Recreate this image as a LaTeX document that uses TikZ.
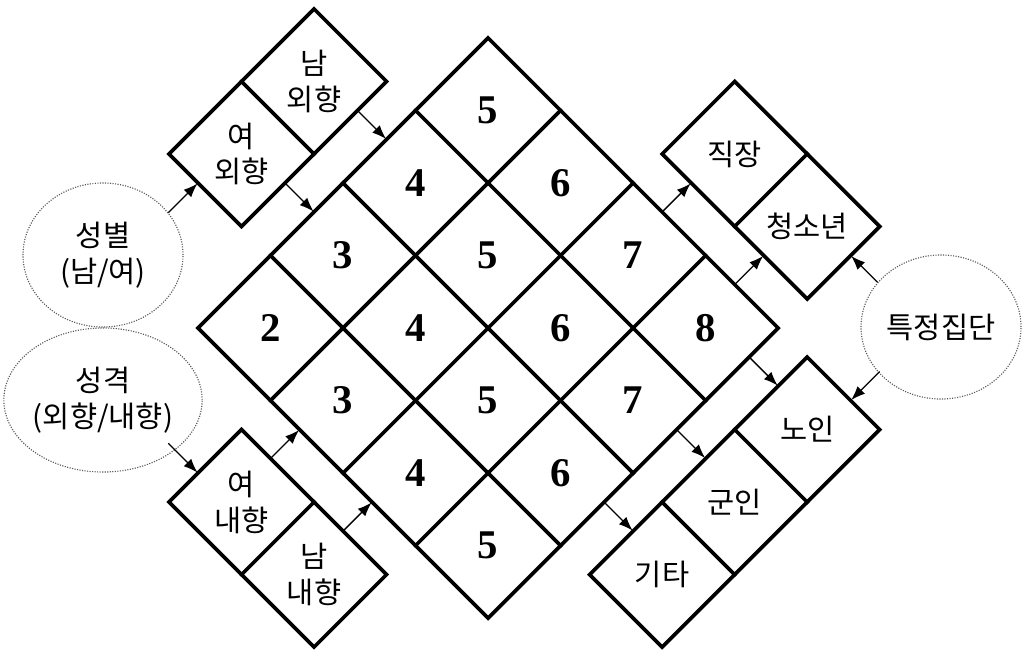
\documentclass[tikz,border=0pt]{standalone}
\usepackage{fontspec}
\setmainfont{Liberation Serif}
\newfontfamily\kr{Noto Sans CJK KR}
\usetikzlibrary{arrows.meta,shapes.geometric}
\begin{document}
\begin{tikzpicture}[x=0.025cm,y=-0.025cm,
  gridline/.style={line width=2.6pt, line join=miter, line cap=rect},
  num/.style={font=\fontsize{29}{30}\selectfont\bfseries, inner sep=0pt},
  lab/.style={font=\kr\fontsize{21}{25.5}\selectfont, align=center, inner sep=0pt},
  arr/.style={line width=0.9pt, -{Latex[length=10pt,width=7.5pt]}, shorten >=0.5pt},
  circ/.style={ellipse, draw=black!65, densely dotted, line width=0.8pt,
    minimum width=4cm, minimum height=3.6cm, inner sep=0pt, align=center,
    font=\kr\fontsize{21}{25.5}\selectfont}]
\path[use as bounding box] (0,0) rectangle (1029,652);

% circles
\node[circ] (sex) at (103,255) {성별\\(남/여)};
\node[circ] (per) at (103,400) {성격\\(외향/내향)};
\node[circ] (grp) at (941,327) {특정집단};

\begin{scope}[shift={(198,328)}, x={(1.8125cm,-1.8125cm)}, y={(1.8125cm,1.8125cm)}]
  % main grid
  \draw[gridline] (0,0) -- (4,0) -- (4,4) -- (0,4) -- cycle;
  \foreach \k in {1,2,3} {
    \draw[gridline] (\k,0) -- (\k,4);
    \draw[gridline] (0,\k) -- (4,\k);
  }
  \foreach \i in {0,...,3} {
    \foreach \j in {0,...,3} {
      \pgfmathtruncatemacro\v{2+\i+\j}
      \node[num] (n\i\j) at (\i+0.5,\j+0.5) {\v};
    }
  }
  % upper-left boxes
  \draw[gridline] (-1.4,1) -- (-0.4,1) -- (-0.4,3) -- (-1.4,3) -- cycle;
  \draw[gridline] (-1.4,2) -- (-0.4,2);
  \node[lab] (fo) at (-0.9,1.5) {여\\외향};
  \node[lab] (mo) at (-0.9,2.5) {남\\외향};
  % lower-left boxes
  \draw[gridline] (1,-1.4) -- (3,-1.4) -- (3,-0.4) -- (1,-0.4) -- cycle;
  \draw[gridline] (2,-1.4) -- (2,-0.4);
  \node[lab] (fi) at (1.5,-0.9) {여\\내향};
  \node[lab] (mi) at (2.5,-0.9) {남\\내향};
  % upper-right boxes
  \draw[gridline] (2,4.4) -- (4,4.4) -- (4,5.4) -- (2,5.4) -- cycle;
  \draw[gridline] (3,4.4) -- (3,5.4);
  \node[lab] (job) at (2.5,4.9) {직장};
  \node[lab] (teen) at (3.5,4.9) {청소년};
  % lower-right boxes
  \draw[gridline] (4.4,1) -- (5.4,1) -- (5.4,4) -- (4.4,4) -- cycle;
  \draw[gridline] (4.4,2) -- (5.4,2);
  \draw[gridline] (4.4,3) -- (5.4,3);
  \node[lab] (old) at (4.9,3.5) {노인};
  \node[lab] (mil) at (4.9,2.5) {군인};
  \node[lab] (etc) at (4.9,1.5) {기타};

  % arrow end points
  \coordinate (mo-s) at (-0.4,2.6); \coordinate (mo-e) at (0,2.6);
  \coordinate (fo-s) at (-0.4,1.6); \coordinate (fo-e) at (0,1.6);
  \coordinate (fi-s) at (1.4,-0.4); \coordinate (fi-e) at (1.4,0);
  \coordinate (mi-s) at (2.4,-0.4); \coordinate (mi-e) at (2.4,0);
  \coordinate (job-s) at (2.4,4); \coordinate (job-e) at (2.4,4.4);
  \coordinate (teen-s) at (3.4,4); \coordinate (teen-e) at (3.4,4.4);
  \coordinate (old-s) at (4,3.6); \coordinate (old-e) at (4.4,3.6);
  \coordinate (mil-s) at (4,2.6); \coordinate (mil-e) at (4.4,2.6);
  \coordinate (etc-s) at (4,1.6); \coordinate (etc-e) at (4.4,1.6);
  \coordinate (sex-s) at (-1,0.59); \coordinate (sex-e) at (-1,1);
  \coordinate (per-s) at (0.59,-1); \coordinate (per-e) at (1,-1);
  \coordinate (grp-s1) at (4.37,5); \coordinate (grp-e1) at (4,5);
  \coordinate (grp-s2) at (5,4.4); \coordinate (grp-e2) at (5,4);
\end{scope}

\draw[arr] (mo-s) -- (mo-e);
\draw[arr] (fo-s) -- (fo-e);
\draw[arr] (fi-s) -- (fi-e);
\draw[arr] (mi-s) -- (mi-e);
\draw[arr] (job-s) -- (job-e);
\draw[arr] (teen-s) -- (teen-e);
\draw[arr] (old-s) -- (old-e);
\draw[arr] (mil-s) -- (mil-e);
\draw[arr] (etc-s) -- (etc-e);
\draw[arr] (sex-s) -- (sex-e);
\draw[arr] (per-s) -- (per-e);
\draw[arr] (grp-s1) -- (grp-e1);
\draw[arr] (grp-s2) -- (grp-e2);
\end{tikzpicture}
\end{document}
